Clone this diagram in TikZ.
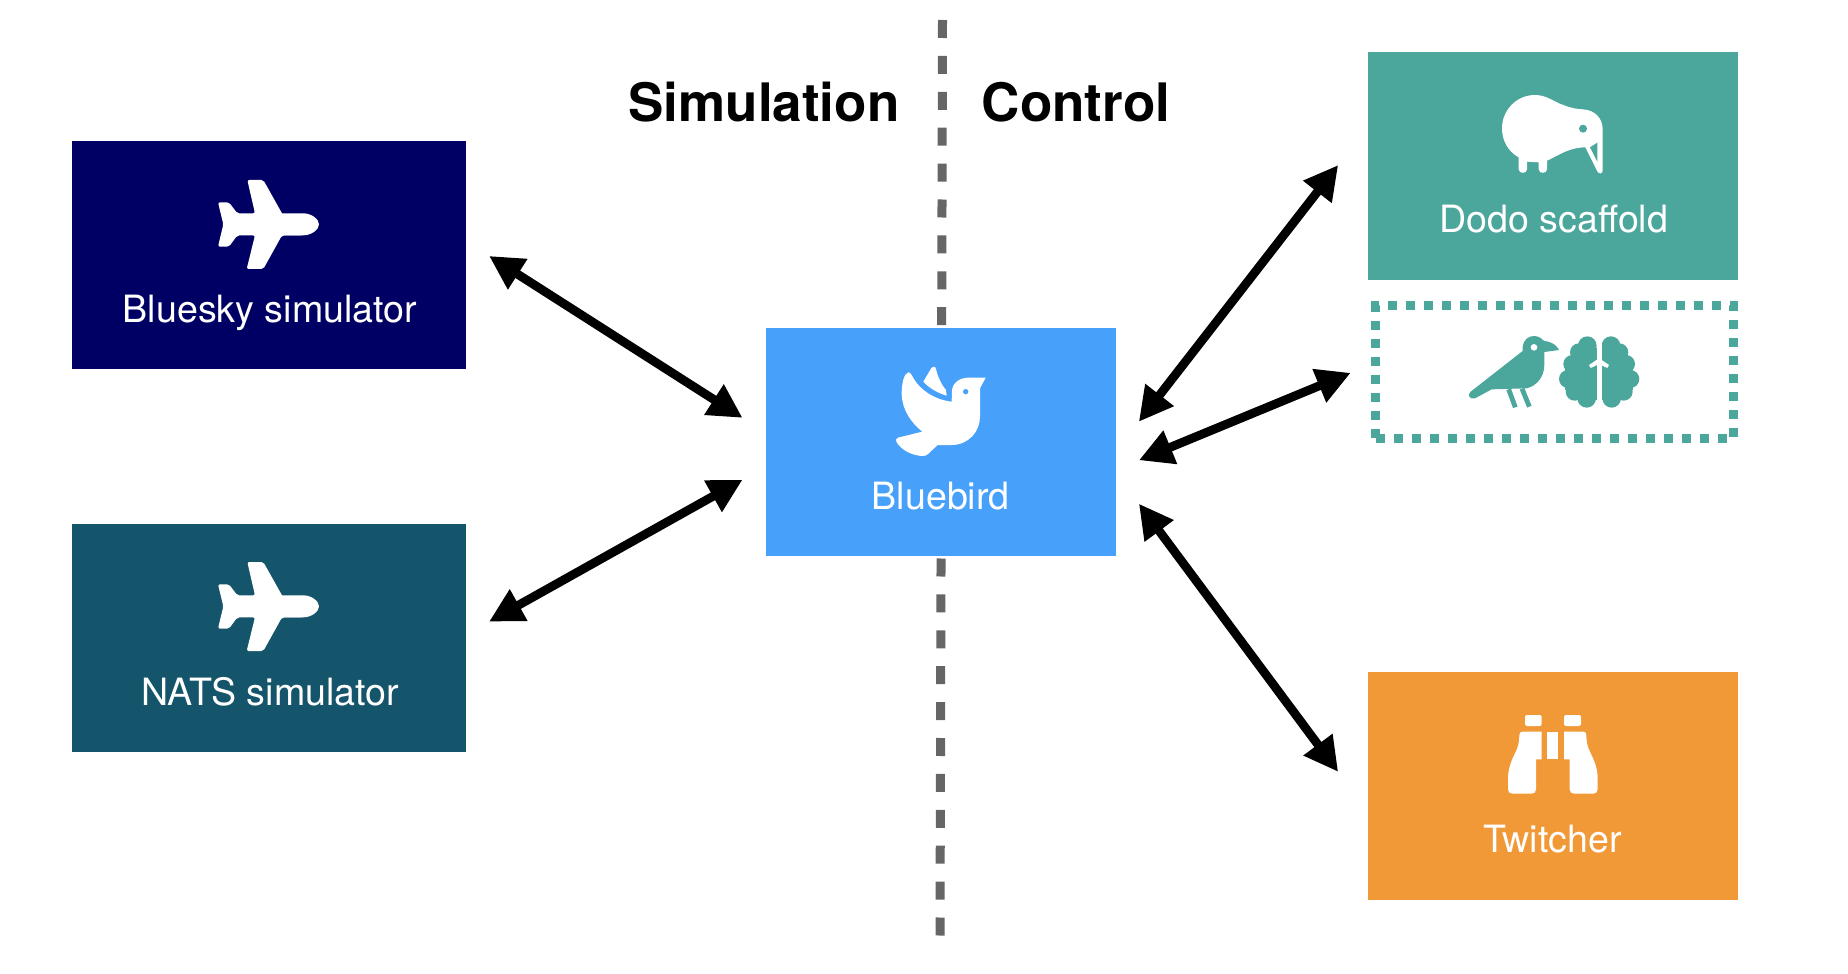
\documentclass[tikz,border=0pt]{standalone}
\usepackage{fontspec}
\setmainfont{TeX Gyre Heros}
\usetikzlibrary{arrows.meta}
\definecolor{navybox}{HTML}{000064}
\definecolor{natsbox}{HTML}{15556B}
\definecolor{birdbox}{HTML}{47A0FA}
\definecolor{dodobox}{HTML}{4BA69C}
\definecolor{twitchbox}{HTML}{F19837}
\definecolor{divider}{HTML}{666666}
\tikzset{
  boxnode/.style={rectangle,minimum height=114pt,inner sep=0pt,outer sep=0pt},
  boxlabel/.style={anchor=base,text=white,font=\fontsize{18.8pt}{22pt}\selectfont,inner sep=0pt},
  sidelabel/.style={anchor=base,font=\fontsize{26.5pt}{30pt}\selectfont\bfseries,inner sep=0pt},
  link/.style={<->,line width=4.4pt},
}
% plane outline, used twice
\newcommand{\planeicon}[2]{
  \begin{scope}[shift={(#1,#2)},scale=1/3]
    \fill[white,rounded corners=1pt] (666,250) -- (610,150) -- (562,150) -- (585,250) -- (532,250)
      -- (507,217) -- (474,217) -- (490,283) -- (474,350) -- (507,350) -- (532,316) -- (585,316)
      -- (560,417) -- (610,417) -- (666,316) -- (725,316);
    \fill[white] (666,250) -- (730,250) .. controls (755,250) and (777,268) .. (777,283)
      .. controls (777,298) and (755,316) .. (730,316) -- (666,316) -- cycle;
  \end{scope}
}
\begin{document}
\begin{tikzpicture}[x=0.5pt,y=-0.5pt,>={Triangle[length=17pt,width=17pt]}]
  \useasboundingbox (0,0) rectangle (1848,974);
  % divider sits behind the blue box
  \coordinate (dividertop) at (942.5,20);
  \coordinate (dividerbottom) at (940,936);
  \draw[divider,line width=4.5pt,dash pattern=on 9pt off 8.95pt] (dividertop) -- (dividerbottom);

  \node[sidelabel] (simulation) at (764,121.5) {Simulation};
  \node[sidelabel] (control) at (1076,121.5) {Control};

  \node[boxnode,fill=navybox,minimum width=197pt] (bluesky) at (269,255) {};
  \node[boxnode,fill=natsbox,minimum width=197pt] (nats) at (269,638) {};
  \node[boxnode,fill=birdbox,minimum width=175pt] (bluebird) at (941,442) {};
  \node[boxnode,fill=dodobox,minimum width=185pt] (dodo) at (1553,166) {};
  \node[boxnode,fill=twitchbox,minimum width=185pt] (twitcher) at (1553,786) {};
  \node[rectangle,draw=dodobox,line width=4.5pt,dash pattern=on 4.5pt off 4.5pt,inner sep=0pt,outer sep=0pt,
    minimum width=179pt,minimum height=66.5pt] (birdbrain) at (1554.5,372) {};

  \node[boxlabel] (blueskytext) at (270,322.5) {Bluesky simulator};
  \node[boxlabel] (natstext) at (270,705) {NATS simulator};
  \node[boxlabel] (bluebirdtext) at (940.8,509.5) {Bluebird};
  \node[boxlabel] (dodotext) at (1553.7,232.5) {Dodo scaffold};
  \node[boxlabel] (twitchertext) at (1552.5,852.5) {Twitcher};

  \draw[link,shorten <=13.7pt,shorten >=13.9pt] (bluesky.4.3) -- (bluebird.177.55);
  \draw[link,shorten <=13.2pt,shorten >=13.4pt] (nats.1) -- (bluebird.188.1);
  \draw[link,shorten <=18.6pt,shorten >=24.3pt] (bluebird.-3.76) -- (dodo.168.62);
  \draw[link,shorten <=12.4pt,shorten >=13.4pt] (bluebird.-9.55) -- (birdbrain.177.7);
  \draw[link,shorten <=19.2pt,shorten >=25pt] (bluebird.-10.46) -- (twitcher.188.76);

  \planeicon{60}{130}
  \planeicon{60}{512}

  % dove
  \begin{scope}[shift={(760,320)},scale=1/3]
    \fill[white] (445,157) .. controls (432,160) and (425,190) .. (425,222)
      .. controls (426,270) and (455,310) .. (487,335) -- (414,353)
      .. controls (407,355) and (406,362) .. (410,367)
      .. controls (425,392) and (460,408) .. (490,408)
      .. controls (497,408) and (500,405) .. (504,402) -- (533,375) -- (575,375)
      .. controls (625,375) and (660,335) .. (660,290) -- (660,205) -- (677,173) -- (625,173)
      .. controls (598,173) and (577,190) .. (576,212) -- (575,245)
      .. controls (530,240) and (480,215) .. (455,165)
      .. controls (452,160) and (449,157) .. (445,157) -- cycle;
    \fill[white] (490,185) -- (513,146) .. controls (518,138) and (526,138) .. (528,147)
      .. controls (533,170) and (545,195) .. (558,210) -- (560,227)
      .. controls (535,220) and (508,205) .. (490,185) -- cycle;
    \fill[birdbox] (617,215) circle (8);
  \end{scope}

  % kiwi
  \begin{scope}[shift={(1360,40)},scale=1/3]
    \fill[white] (525,165) .. controls (560,165) and (580,185) .. (610,195)
      .. controls (635,205) and (650,207) .. (668,208)
      .. controls (705,210) and (728,235) .. (728,268) -- (728,392)
      .. controls (728,402) and (716,403) .. (712,394) -- (676,322)
      .. controls (635,322) and (605,340) .. (585,350)
      .. controls (575,356) and (568,359) .. (561,362) -- (561,388)
      .. controls (561,402) and (536,402) .. (536,388) -- (536,367) -- (501,365) -- (501,388)
      .. controls (501,402) and (476,402) .. (476,388) -- (476,352)
      .. controls (445,335) and (426,303) .. (426,265)
      .. controls (426,210) and (470,165) .. (525,165) -- cycle;
    \fill[dodobox] (690,322) -- (712,308) -- (712,365) -- cycle;
    \fill[dodobox] (669,266) circle (12);
  \end{scope}

  % small bird and brain
  \begin{scope}[shift={(1360,290)},scale=1/3]
    \fill[dodobox] (332,305) -- (488,183) -- (488,170)
      .. controls (490,150) and (505,138) .. (522,138)
      .. controls (535,138) and (545,145) .. (552,153)
      .. controls (575,155) and (590,165) .. (597,180) -- (553,186) -- (553,225)
      .. controls (553,260) and (530,288) .. (500,295) -- (395,298) -- (345,325)
      .. controls (330,330) and (320,315) .. (332,305) -- cycle;
    \draw[dodobox,line width=2.4pt] (446,298) -- (466,352);
    \draw[dodobox,line width=2.4pt] (486,296) -- (508,350);
    \fill[white] (522,172) circle (10);
    \foreach \bx/\by/\br in {682/167/28,657/187/27,637/222/27,624/267/27,644/305/27,680/325/28}{
      \fill[dodobox] (\bx,\by) circle (\br);
      \fill[dodobox] (1435-\bx,\by) circle (\br);
    }
    \fill[dodobox] (640,175) rectangle (795,330);
    \fill[dodobox] (615,230) rectangle (820,300);
    \fill[white] (710,130) rectangle (725,360);
    \fill[white] (717,205) -- (747,225) -- (742,234) -- (717,222) -- (692,234) -- (687,225) -- cycle;
  \end{scope}

  % binoculars
  \begin{scope}[shift={(1400,680)},scale=1/3]
    \fill[white,rounded corners=1pt] (375,105) rectangle (425,138);
    \fill[white,rounded corners=1pt] (492,105) rectangle (543,138);
    \fill[white] (442,155) rectangle (475,238);
    \fill[white] (368,155) -- (425,155) -- (425,238) -- (408,238) -- (408,328)
      .. controls (408,337) and (402,341) .. (395,341) -- (337,341)
      .. controls (330,341) and (324,336) .. (324,328) -- (324,295)
      .. controls (324,265) and (335,240) .. (345,220)
      .. controls (355,200) and (358,185) .. (358,165)
      .. controls (358,158) and (362,155) .. (368,155) -- cycle;
    \fill[white] (549,155) -- (492,155) -- (492,238) -- (509,238) -- (509,328)
      .. controls (509,337) and (515,341) .. (522,341) -- (580,341)
      .. controls (587,341) and (593,336) .. (593,328) -- (593,295)
      .. controls (593,265) and (582,240) .. (572,220)
      .. controls (562,200) and (559,185) .. (559,165)
      .. controls (559,158) and (555,155) .. (549,155) -- cycle;
  \end{scope}
\end{tikzpicture}
\end{document}
